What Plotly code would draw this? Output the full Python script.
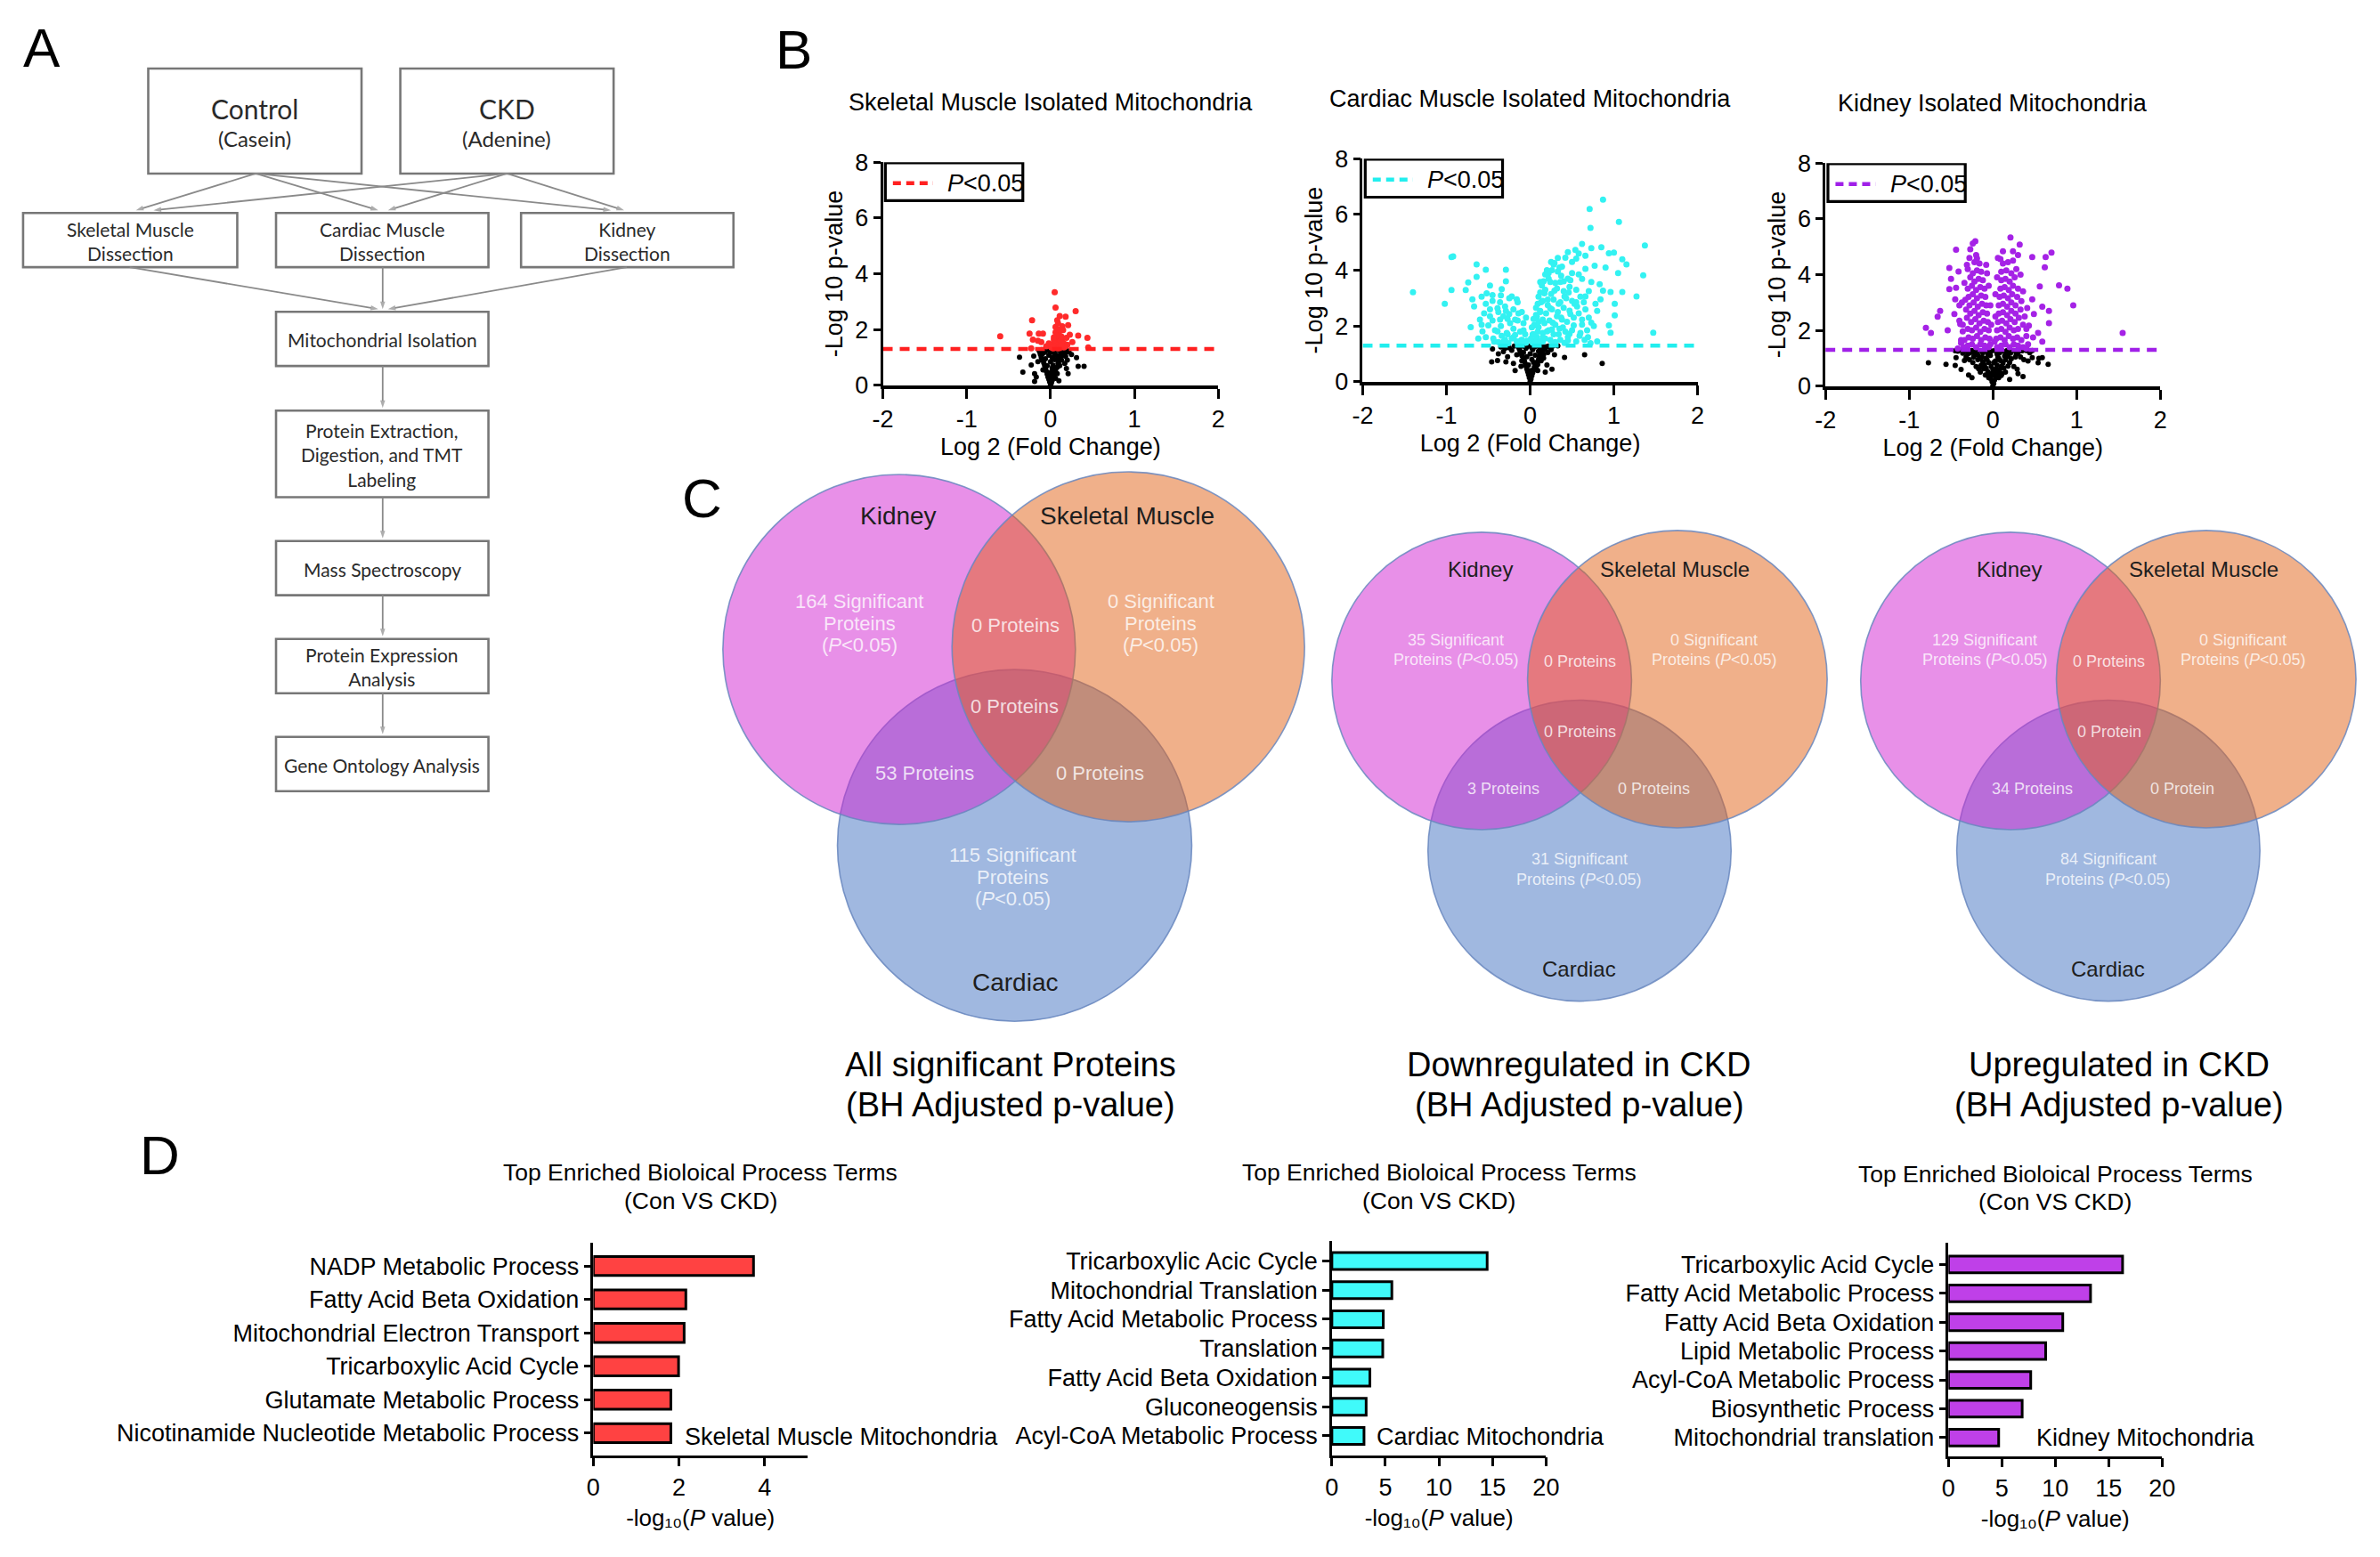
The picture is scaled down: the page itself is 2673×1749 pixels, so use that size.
import plotly.graph_objects as go

# Target picture size (reference pixel coordinates are used throughout)
W, H = 2673, 1749
# the page body keeps its default 8px margin, so the figure is made to fit inside it
PAD = 8
FW, FH = W - 2 * PAD, H - 2 * PAD


def px(x):
    return (x - PAD) / FW


def py(y):
    return 1 - (y - PAD) / FH


ARIAL = "Liberation Sans, Arial, Helvetica, sans-serif"
CALIBRI = "Lato, Carlito, Calibri, sans-serif"

# ======================= DATA =======================
# ---- Panel B: volcano plots (log2 fold change, -log10 p) ----
volcano_titles = ["Skeletal Muscle Isolated Mitochondria",
                  "Cardiac Muscle Isolated Mitochondria",
                  "Kidney Isolated Mitochondria"]
p_threshold = 1.3
volcano_xticks = [-2, -1, 0, 1, 2]
volcano_xticktext = ["-2", "-1", "0", "1", "2"]
volcano_yticks = [0, 2, 4, 6, 8]

skm_ns = [(0.00, 0.02), (0.01, 0.08), (-0.01, 0.12), (0.02, 0.18), (-0.02, 0.22), (0.03, 0.28), (-0.03, 0.30),
          (0.04, 0.36), (-0.04, 0.40), (0.00, 0.33), (0.05, 0.45), (-0.05, 0.50), (0.01, 0.48), (0.06, 0.55),
          (-0.06, 0.60), (0.02, 0.62), (0.08, 0.65), (-0.07, 0.70), (0.03, 0.72), (0.09, 0.78), (-0.08, 0.80),
          (0.00, 0.85), (0.10, 0.86), (-0.10, 0.90), (0.05, 0.92), (0.12, 0.95), (-0.11, 1.00), (0.02, 1.00),
          (0.13, 1.05), (-0.12, 1.10), (0.07, 1.08), (0.14, 1.15), (-0.13, 1.20), (0.00, 1.18), (0.15, 1.22),
          (-0.05, 1.25), (0.10, 1.26), (-0.09, 1.15), (0.04, 1.22), (0.16, 1.28), (-0.14, 1.27), (0.11, 0.70),
          (0.13, 0.90), (-0.09, 0.55), (0.06, 0.25), (-0.06, 0.95), (0.18, 1.18), (0.07, 1.28), (-0.02, 1.08),
          (0.05, 1.12), (0.09, 0.98), (-0.04, 0.70), (0.04, 0.58), (0.12, 1.12), (-0.08, 1.28), (0.01, 1.28),
          (-0.11, 1.28), (0.12, 1.28), (0.19, 1.28), (-0.03, 1.28), (0.03, 0.95), (-0.07, 1.18), (0.08, 0.42),
          (-0.37, 1.01), (-0.33, 0.47), (-0.19, 0.42), (-0.19, 0.14), (-0.23, 0.73), (0.31, 0.99), (0.33, 0.68),
          (0.40, 0.68), (0.18, 1.04), (0.17, 0.78), (0.21, 0.42), (-0.10, 1.12), (0.10, 0.16), (0.20, 0.90),
          (0.22, 1.20), (-0.20, 1.05), (0.19, 0.60), (-0.15, 0.85), (0.25, 1.10), (-0.17, 0.30)]
skm_sig = [(0.05, 3.34), (0.06, 2.79), (0.30, 2.66), (0.11, 2.48), (0.18, 2.46), (-0.22, 2.33), (0.08, 2.33),
           (0.21, 2.16), (0.14, 2.12), (0.06, 2.09), (-0.25, 1.85), (-0.14, 1.85), (-0.09, 1.85), (-0.60, 1.76),
           (0.10, 1.88), (0.23, 1.81), (0.33, 1.78), (0.44, 1.70), (-0.21, 1.64), (-0.15, 1.60), (0.07, 1.67),
           (0.14, 1.67), (0.09, 1.52), (0.12, 1.46), (0.05, 1.41), (0.16, 1.36), (0.45, 1.36), (-0.23, 1.33),
           (0.03, 1.33), (0.09, 1.33), (0.08, 1.55), (0.03, 1.45), (0.12, 1.60), (0.06, 1.90), (0.10, 2.00),
           (0.02, 1.38), (0.16, 1.50), (-0.05, 1.40), (0.20, 1.45), (0.13, 1.75), (0.04, 1.62), (0.18, 1.40),
           (0.11, 1.35), (-0.02, 1.50), (0.07, 1.78), (0.01, 1.36), (0.13, 1.42), (0.15, 1.98), (-0.11, 1.55),
           (0.26, 1.55), (0.09, 2.22), (0.04, 1.72), (0.19, 1.70)]

cm_ns = [(0.00, 0.02), (0.01, 0.10), (-0.01, 0.15), (0.02, 0.22), (-0.02, 0.26), (0.03, 0.32), (-0.03, 0.36),
         (0.04, 0.42), (-0.04, 0.46), (0.05, 0.52), (-0.05, 0.56), (0.06, 0.60), (-0.06, 0.66), (0.08, 0.70),
         (-0.07, 0.75), (0.10, 0.80), (-0.08, 0.84), (0.11, 0.90), (-0.10, 0.94), (0.12, 0.98), (-0.11, 1.02),
         (0.14, 1.06), (-0.12, 1.10), (0.15, 1.14), (-0.13, 1.18), (0.17, 1.20), (-0.14, 1.25), (0.19, 1.26),
         (0.05, 1.25), (0.10, 1.10), (0.06, 0.95), (0.02, 0.80), (0.03, 1.15), (0.22, 1.28), (0.08, 1.28),
         (-0.05, 1.20), (0.13, 0.75), (-0.02, 0.60), (0.00, 1.00), (0.12, 1.22), (0.07, 0.50), (0.04, 0.70),
         (0.09, 0.62), (-0.04, 0.90), (0.16, 0.98), (0.02, 1.22), (-0.08, 1.05), (0.14, 1.28),
         (-0.09, 1.28), (-0.02, 1.28), (0.11, 1.28), (0.18, 1.15), (0.21, 1.05), (-0.10, 0.75), (0.16, 0.85),
         (0.24, 1.22), (-0.19, 1.28), (0.27, 1.28), (0.01, 0.40), (0.09, 0.40),
         (-0.45, 1.18), (-0.39, 0.76), (-0.46, 0.71), (-0.32, 1.08), (-0.22, 1.13), (-0.16, 0.97), (-0.29, 0.71),
         (-0.20, 0.66), (0.41, 0.87), (0.65, 0.97), (0.86, 0.66), (0.33, 1.29), (0.29, 0.97), (0.26, 0.45),
         (-0.11, 0.55), (-0.18, 0.40), (-0.35, 1.25), (-0.25, 1.22), (0.25, 1.15), (0.20, 0.60), (-0.27, 0.90),
         (0.18, 0.35), (-0.30, 1.20), (-0.38, 1.00)]
cm_sig = [(0.87, 6.53), (0.71, 6.20), (1.06, 5.73), (0.72, 5.52), (1.37, 4.89), (0.62, 4.94), (0.54, 4.73),
          (0.45, 4.65), (0.73, 4.79), (0.85, 4.82), (0.94, 4.61), (1.00, 4.63), (0.66, 4.52), (0.55, 4.42),
          (0.33, 4.44), (0.29, 4.26), (0.26, 4.00), (0.38, 4.13), (1.10, 4.39), (1.15, 4.21), (1.05, 3.90),
          (1.35, 3.82), (0.77, 4.16), (0.66, 4.05), (0.50, 3.90), (0.22, 3.90), (-0.92, 4.50), (-0.94, 4.47),
          (-0.64, 4.21), (-0.53, 4.02), (-0.29, 4.02), (-0.29, 3.60), (-0.74, 3.56), (-0.94, 3.29), (-0.77, 3.29),
          (-1.02, 2.80), (-0.64, 3.76), (-0.52, 3.17), (-0.45, 3.11), (-0.34, 3.32), (-0.22, 3.06), (-0.16, 2.96),
          (-0.69, 2.96), (-0.67, 2.70), (-0.53, 2.80), (-0.39, 2.64), (-0.29, 2.54), (-0.60, 2.23), (-0.71, 1.96),
          (-0.50, 2.02), (-0.36, 2.23), (-0.25, 2.43), (-0.18, 2.23), (-0.57, 1.81), (-0.39, 1.81), (-0.53, 1.60),
          (-0.43, 1.44), (-0.27, 1.70), (-0.20, 1.60), (-0.32, 1.44), (-0.11, 1.49), (-0.04, 1.47), (-1.40, 3.21),
          (0.12, 3.58), (0.24, 3.58), (0.36, 3.58), (0.48, 3.64), (0.62, 3.69), (0.73, 3.58), (0.87, 3.27),
          (0.96, 3.22), (1.10, 3.22), (1.27, 3.06), (0.84, 2.96), (1.01, 2.80), (0.80, 2.54), (1.01, 2.38),
          (0.94, 2.02), (1.47, 1.76), (0.96, 1.76), (0.66, 3.06), (0.55, 2.85), (0.41, 3.06), (0.29, 3.27),
          (0.17, 3.17), (0.13, 2.85), (0.24, 2.64), (0.34, 2.80), (0.48, 2.43), (0.62, 2.23), (0.73, 2.12),
          (0.52, 2.02), (0.38, 2.23), (0.27, 2.12), (0.15, 2.23), (0.10, 1.96), (0.20, 1.81), (0.34, 1.70),
          (0.45, 1.60), (0.59, 1.65), (0.69, 1.60), (0.08, 1.60), (0.15, 1.44), (0.27, 1.39), (0.41, 1.39),
          (0.06, 1.39), (0.03, 1.70), (0.05, 2.02), (0.08, 2.33), (0.12, 2.54),
          (0.03, 1.40), (0.07, 1.50), (0.12, 1.45), (0.18, 1.55), (0.24, 1.50), (0.30, 1.42), (0.36, 1.50),
          (0.45, 1.48), (0.55, 1.45), (0.65, 1.50), (0.04, 1.70), (0.09, 1.80), (0.15, 1.75), (0.22, 1.85),
          (0.28, 1.70), (0.35, 1.90), (0.42, 1.80), (0.50, 1.85), (0.60, 1.75), (0.05, 2.05), (0.10, 2.15),
          (0.17, 2.10), (0.23, 2.20), (0.30, 2.05), (0.37, 2.30), (0.44, 2.15), (0.52, 2.30), (0.62, 2.05),
          (0.70, 2.30), (0.07, 2.40), (0.12, 2.50), (0.19, 2.45), (0.26, 2.60), (0.33, 2.50), (0.40, 2.65),
          (0.47, 2.55), (0.56, 2.70), (0.66, 2.60), (0.09, 2.80), (0.15, 2.90), (0.21, 2.75), (0.28, 2.95),
          (0.36, 2.85), (0.43, 3.00), (0.50, 2.90), (0.60, 3.05), (0.12, 3.20), (0.18, 3.30), (0.25, 3.15),
          (0.32, 3.35), (0.40, 3.25), (0.47, 3.40), (0.55, 3.30), (0.16, 3.60), (0.22, 3.70), (0.30, 3.55),
          (0.37, 3.80), (0.45, 3.70), (0.58, 3.85), (0.20, 4.00), (0.28, 4.20), (0.35, 4.10), (0.50, 4.30),
          (0.42, 4.45), (-0.05, 1.40), (-0.10, 1.50), (-0.16, 1.45), (-0.22, 1.55), (-0.30, 1.50), (-0.38, 1.42),
          (-0.06, 1.70), (-0.12, 1.80), (-0.20, 1.90), (-0.28, 1.75), (-0.35, 2.00), (-0.42, 1.85), (-0.08, 2.10),
          (-0.15, 2.20), (-0.24, 2.10), (-0.32, 2.35), (-0.45, 2.20), (-0.10, 2.50), (-0.20, 2.60), (-0.30, 2.70),
          (-0.38, 2.50), (-0.48, 2.60), (-0.25, 3.00), (-0.35, 3.10), (-0.45, 2.90), (-0.55, 2.45), (-0.15, 2.85),
          (-0.12, 1.35), (-0.26, 1.38), (-0.34, 1.65), (-0.18, 1.68), (-0.44, 1.55), (-0.62, 1.55), (-0.58, 2.05),
          (-0.48, 2.35), (-0.27, 2.25), (-0.14, 2.45), (-0.05, 2.30), (-0.36, 2.85), (-0.58, 3.05), (-0.48, 3.45),
          (-0.08, 1.85), (0.01, 1.55), (0.02, 1.95), (0.04, 2.25), (0.07, 2.65), (0.10, 3.05), (0.14, 3.45),
          (0.18, 3.85), (0.25, 4.30), (0.33, 3.95), (0.40, 3.60), (0.46, 3.20), (0.53, 2.80), (0.58, 2.45),
          (0.64, 2.85), (0.70, 3.25), (0.68, 1.85), (0.76, 2.00), (0.78, 2.80), (0.83, 3.50), (0.90, 4.10),
          (0.58, 4.60), (0.39, 1.95), (0.32, 2.35), (0.21, 2.95), (0.15, 1.60), (0.26, 1.88), (0.47, 1.72),
          (0.80, 1.45), (0.72, 1.38)]

kid_ns = [(0.00, 0.02), (0.01, 0.10), (-0.01, 0.16), (0.02, 0.22), (-0.03, 0.28), (0.04, 0.34), (-0.04, 0.40),
          (0.06, 0.46), (-0.06, 0.52), (0.08, 0.58), (-0.08, 0.64), (0.10, 0.70), (-0.10, 0.76), (0.12, 0.82),
          (-0.12, 0.88), (0.15, 0.94), (-0.15, 1.00), (0.18, 1.06), (-0.18, 1.12), (0.21, 1.18), (-0.21, 1.24),
          (0.25, 1.28), (-0.25, 1.28), (0.00, 0.60), (0.03, 0.90), (-0.03, 1.10), (0.08, 1.20), (-0.08, 1.00),
          (0.12, 1.25), (-0.12, 1.20), (0.30, 1.20), (-0.30, 1.15), (0.35, 1.27), (-0.35, 1.25), (0.05, 0.75),
          (-0.05, 0.85), (0.20, 0.85), (-0.20, 0.70), (0.15, 0.50), (-0.15, 0.50), (0.40, 1.28), (-0.40, 1.29),
          (0.02, 1.28), (-0.02, 1.26), (0.06, 1.05), (-0.06, 1.15), (0.00, 0.40), (0.03, 0.50), (-0.02, 0.70),
          (0.09, 0.92), (-0.10, 1.28), (0.16, 1.15), (0.27, 1.05), (-0.23, 1.05), (0.05, 1.15), (-0.14, 0.75),
          (0.11, 0.45), (0.22, 1.28), (-0.30, 1.27), (0.07, 0.30),
          (-0.42, 1.25), (-0.36, 1.18), (-0.32, 1.05), (-0.27, 1.20), (-0.28, 0.95), (-0.24, 0.85), (-0.22, 1.18),
          (-0.18, 0.95), (-0.17, 0.62), (-0.13, 1.05), (-0.11, 0.62), (-0.09, 0.40), (-0.07, 0.95), (-0.05, 0.30),
          (-0.02, 0.45), (0.01, 0.85), (0.04, 0.62), (0.07, 1.00), (0.10, 0.38), (0.13, 0.65), (0.14, 1.08),
          (0.18, 0.72), (0.22, 0.98), (0.25, 0.70), (0.28, 1.15), (0.33, 1.05), (0.37, 0.95), (0.44, 1.20),
          (0.47, 1.28), (-0.45, 1.27), (0.17, 1.28), (-0.17, 1.28), (0.32, 1.28), (-0.06, 1.28), (0.09, 1.28),
          (-0.77, 0.84), (-0.56, 0.78), (-0.45, 0.74), (-0.44, 1.02), (-0.34, 0.92), (-0.29, 0.40), (0.47, 1.02),
          (0.55, 1.00), (0.59, 1.02), (0.66, 0.78), (0.54, 0.84), (0.36, 0.34), (0.20, 0.24), (0.29, 0.61),
          (0.42, 0.90), (-0.38, 0.60), (0.30, 0.45), (-0.25, 0.30)]
kid_sig = [(0.21, 5.33), (-0.21, 5.20), (-0.24, 5.12), (0.32, 5.08), (-0.44, 4.89), (-0.27, 4.91), (0.12, 4.84),
           (0.24, 4.84), (0.47, 4.63), (0.63, 4.63), (0.70, 4.79), (-0.19, 4.58), (0.09, 4.56), (-0.52, 4.24),
           (-0.31, 4.35), (0.62, 4.26), (-0.41, 4.11), (-0.50, 3.85), (-0.07, 4.05), (0.56, 3.58), (0.79, 3.62),
           (0.89, 3.50), (-0.52, 3.48), (-0.44, 3.53), (0.96, 2.90), (-0.63, 2.70), (-0.66, 2.49), (-0.80, 2.09),
           (-0.74, 1.91), (-0.54, 2.00), (0.59, 2.85), (0.67, 2.70), (0.67, 2.26), (0.54, 1.91), (0.59, 1.60),
           (1.55, 1.91), (-0.45, 3.11), (-0.40, 2.90), (-0.46, 2.59), (-0.39, 2.23), (-0.38, 1.65), (-0.36, 1.96),
           (0.47, 3.11), (0.49, 2.59), (0.43, 2.17), (0.48, 1.75),
           (-0.05, 1.40), (-0.10, 1.45), (-0.15, 1.50), (-0.20, 1.40), (-0.25, 1.50), (-0.30, 1.45), (-0.35, 1.40),
           (-0.04, 1.70), (-0.09, 1.75), (-0.14, 1.65), (-0.19, 1.80), (-0.24, 1.70), (-0.29, 1.75), (-0.34, 1.65),
           (-0.05, 2.00), (-0.10, 2.05), (-0.15, 1.95), (-0.20, 2.10), (-0.25, 2.00), (-0.30, 2.05), (-0.36, 2.20),
           (-0.06, 2.30), (-0.11, 2.35), (-0.16, 2.25), (-0.21, 2.40), (-0.26, 2.30), (-0.31, 2.45),
           (-0.07, 2.60), (-0.12, 2.65), (-0.17, 2.55), (-0.22, 2.70), (-0.27, 2.60), (-0.32, 2.75),
           (-0.08, 2.90), (-0.13, 2.95), (-0.18, 2.85), (-0.23, 3.00), (-0.28, 2.90), (-0.33, 3.10),
           (-0.09, 3.20), (-0.14, 3.25), (-0.19, 3.15), (-0.24, 3.30), (-0.29, 3.20),
           (-0.10, 3.50), (-0.15, 3.55), (-0.20, 3.45), (-0.25, 3.60), (-0.30, 3.50),
           (-0.12, 3.80), (-0.17, 3.85), (-0.22, 3.75), (-0.27, 3.90),
           (-0.14, 4.10), (-0.19, 4.15), (-0.24, 4.05), (-0.30, 4.20), (-0.16, 4.40), (-0.22, 4.45), (-0.20, 4.70),
           (0.05, 1.40), (0.10, 1.45), (0.15, 1.50), (0.20, 1.40), (0.25, 1.50), (0.30, 1.45), (0.36, 1.40),
           (0.42, 1.50), (0.04, 1.70), (0.09, 1.75), (0.14, 1.65), (0.19, 1.80), (0.24, 1.70), (0.29, 1.75),
           (0.34, 1.65), (0.40, 1.80), (0.05, 2.00), (0.10, 2.05), (0.15, 1.95), (0.20, 2.10), (0.25, 2.00),
           (0.30, 2.05), (0.36, 2.20), (0.06, 2.30), (0.11, 2.35), (0.16, 2.25), (0.21, 2.40), (0.26, 2.30),
           (0.31, 2.45), (0.38, 2.50), (0.07, 2.60), (0.12, 2.65), (0.17, 2.55), (0.22, 2.70), (0.27, 2.60),
           (0.33, 2.75), (0.07, 2.90), (0.12, 2.95), (0.17, 2.85), (0.22, 3.00), (0.27, 2.90), (0.34, 3.05),
           (0.08, 3.20), (0.13, 3.25), (0.18, 3.15), (0.23, 3.30), (0.29, 3.20), (0.09, 3.50), (0.14, 3.55),
           (0.19, 3.45), (0.24, 3.60), (0.30, 3.50), (0.10, 3.80), (0.15, 3.85), (0.20, 3.75), (0.26, 3.90),
           (0.10, 4.10), (0.16, 4.15), (0.22, 4.05), (0.28, 4.20), (0.12, 4.40), (0.18, 4.45), (0.24, 4.50),
           (-0.03, 1.50), (-0.02, 2.20), (-0.03, 2.90), (0.02, 1.60), (0.03, 2.50), (0.03, 3.30), (-0.38, 1.55),
           (-0.40, 2.35), (-0.37, 3.00), (-0.34, 3.70), (0.40, 2.05), (0.41, 2.80), (0.36, 3.40), (0.33, 4.00),
           (-0.28, 4.60), (0.30, 4.70), (0.40, 1.35), (-0.42, 1.35), (-0.05, 3.60), (0.05, 3.90), (-0.08, 4.35),
           (0.06, 4.60)]

# ---- Panel C: Venn counts ----
venn_set_labels = ["Kidney", "Skeletal Muscle", "Cardiac"]
# order: K only, S only, K&S, K&S&C, K&C, S&C, C only
venn_all_counts = [164, 0, 0, 0, 53, 0, 115]
venn_down_counts = [35, 0, 0, 0, 3, 0, 31]
venn_up_counts = [129, 0, 0, 0, 34, 0, 84]
venn_captions = [("All significant Proteins", "(BH Adjusted p-value)"),
                 ("Downregulated in CKD", "(BH Adjusted p-value)"),
                 ("Upregulated in CKD", "(BH Adjusted p-value)")]

# ---- Panel D: GO enrichment bars ----
go_title = ("Top Enriched Bioloical Process Terms", "(Con VS CKD)")
go_xtitle = "-log\u2081\u2080(<i>P</i> value)"
skm_terms = ["NADP Metabolic Process", "Fatty Acid Beta Oxidation", "Mitochondrial Electron Transport",
             "Tricarboxylic Acid Cycle", "Glutamate Metabolic Process", "Nicotinamide Nucleotide Metabolic Process"]
skm_logp = [3.74, 2.16, 2.12, 1.99, 1.81, 1.81]
cm_terms = ["Tricarboxylic Acic Cycle", "Mitochondrial Translation", "Fatty Acid Metabolic Process", "Translation",
            "Fatty Acid Beta Oxidation", "Gluconeogensis", "Acyl-CoA Metabolic Process"]
cm_logp = [14.5, 5.6, 4.8, 4.75, 3.55, 3.2, 3.0]
kid_terms = ["Tricarboxylic Acid Cycle", "Fatty Acid Metabolic Process", "Fatty Acid Beta Oxidation",
             "Lipid Metabolic Process", "Acyl-CoA Metabolic Process", "Biosynthetic Process",
             "Mitochondrial translation"]
kid_logp = [16.3, 13.3, 10.7, 9.1, 7.7, 6.9, 4.7]

# ---- Panel A: flowchart text ----
flow_labels = ["Control", "(Casein)", "CKD", "(Adenine)",
               "Skeletal Muscle<br>Dissection", "Cardiac Muscle<br>Dissection", "Kidney<br>Dissection",
               "Mitochondrial Isolation", "Protein Extraction,<br>Digestion, and TMT<br>Labeling",
               "Mass Spectroscopy", "Protein Expression<br>Analysis", "Gene Ontology Analysis"]

# ======================= FIGURE =======================
fig = go.Figure()
shapes = []
annotations = []
layout_axes = {}


def text(x, y, s, size, color="black", family=ARIAL, xanchor="center", yanchor="middle"):
    annotations.append(dict(x=px(x), y=py(y), xref="paper", yref="paper", text=s, showarrow=False,
                            font=dict(family=family, size=size, color=color), xanchor=xanchor,
                            yanchor=yanchor))


# ---------- Panel letters ----------
text(12, 2, "A", 62, xanchor="left", yanchor="top")
text(866, 4, "B", 62, xanchor="left", yanchor="top")
text(760, 517, "C", 62, xanchor="left", yanchor="top")
text(144, 1268, "D", 62, xanchor="left", yanchor="top")

# ---------- Panel A: flowchart ----------
FLOW_C = "#2a2a2a"
BOX_LINE = "#777777"
box_geom = [(156, 63, 398, 183), (442, 63, 684, 183),
            (14, 228, 257, 290), (301, 228, 542, 290), (579, 228, 820, 290),
            (301, 341, 542, 403), (301, 454, 542, 553), (301, 603, 542, 665),
            (301, 715, 542, 777), (301, 827, 542, 889)]
for (x0, y0, x1, y1) in box_geom:
    shapes.append(dict(type="rect", xref="paper", yref="paper", x0=px(x0), x1=px(x1), y0=py(y1), y1=py(y0),
                       line=dict(color=BOX_LINE, width=2.6), fillcolor="white", layer="below"))
text(277, 109, flow_labels[0], 30, FLOW_C, CALIBRI)
text(277, 143, flow_labels[1], 24, FLOW_C, CALIBRI)
text(563, 109, flow_labels[2], 30, FLOW_C, CALIBRI)
text(563, 143, flow_labels[3], 24, FLOW_C, CALIBRI)
for lab, (x0, y0, x1, y1) in zip(flow_labels[4:], box_geom[2:]):
    text((x0 + x1) / 2, (y0 + y1) / 2 + 1, lab, 21, FLOW_C, CALIBRI)

# flowchart connectors drawn on a hidden full-page overlay axis in picture pixels
ARROW_C = "#8a8a8a"
arrows = [((278, 183), (142, 225)), ((278, 183), (417, 225)), ((278, 183), (681, 225)),
          ((563, 183), (162, 225)), ((563, 183), (428, 225)), ((563, 183), (696, 225)),
          ((135, 290), (417, 338)), ((422, 290), (422, 338)), ((699, 290), (428, 338)),
          ((422, 403), (422, 451)), ((422, 553), (422, 600)), ((422, 665), (422, 712)),
          ((422, 777), (422, 824))]
for (tx, ty), (hx, hy) in arrows:
    fig.add_trace(go.Scatter(x=[tx, hx], y=[ty, hy], mode="lines+markers", xaxis="x7", yaxis="y7",
                             line=dict(color=ARROW_C, width=1.8),
                             marker=dict(symbol="arrow", size=[0, 9], angleref="previous", color=ARROW_C,
                                         line=dict(width=0)),
                             showlegend=False, hoverinfo="skip"))
layout_axes["xaxis7"] = dict(domain=[0, 1], range=[PAD, PAD + FW], visible=False, fixedrange=True,
                             anchor="y7")
layout_axes["yaxis7"] = dict(domain=[0, 1], range=[PAD + FH, PAD], visible=False, fixedrange=True,
                             anchor="x7")

# ---------- Panel B: volcano plots ----------
volcano_specs = [
    dict(ns=skm_ns, sig=skm_sig, color="#FF2A2A", line="#FF2020", dom=(989.5, 1370, 170, 425), title_y=102),
    dict(ns=cm_ns, sig=cm_sig, color="#33F2F2", line="#22EEEE", dom=(1534, 1914, 166, 421), title_y=98),
    dict(ns=kid_ns, sig=kid_sig, color="#A522E6", line="#A020E8", dom=(2059, 2439, 171, 426), title_y=103),
]
for k, spec in enumerate(volcano_specs, start=1):
    xa, ya = f"x{k}", f"y{k}"
    x0, x1, y0, y1 = spec["dom"]
    fig.add_trace(go.Scatter(x=[p[0] for p in spec["ns"]], y=[p[1] for p in spec["ns"]], mode="markers",
                             marker=dict(color="black", size=6), xaxis=xa, yaxis=ya, showlegend=False,
                             cliponaxis=False, hoverinfo="skip"))
    fig.add_trace(go.Scatter(x=[p[0] for p in spec["sig"]], y=[p[1] for p in spec["sig"]], mode="markers",
                             marker=dict(color=spec["color"], size=7), xaxis=xa, yaxis=ya, showlegend=False,
                             hoverinfo="skip"))
    fig.add_trace(go.Scatter(x=[volcano_xticks[0], volcano_xticks[-1]], y=[p_threshold, p_threshold],
                             mode="lines", line=dict(color=spec["line"], width=4.5, dash="11px,8px"),
                             xaxis=xa, yaxis=ya, showlegend=False, hoverinfo="skip"))
    # legend box
    shapes.append(dict(type="rect", xref=xa, yref=ya, x0=-1.97, x1=-0.33, y0=6.62, y1=7.98,
                       line=dict(color="black", width=3.2), fillcolor="rgba(0,0,0,0)"))
    shapes.append(dict(type="line", xref=xa, yref=ya, x0=-1.88, x1=-1.40, y0=7.25, y1=7.25,
                       line=dict(color=spec["line"], width=4.5, dash="9px,6px")))
    annotations.append(dict(x=-1.25, y=7.25, xref=xa, yref=ya, text="<i>P</i>&lt;0.05", showarrow=False,
                            xanchor="left", yanchor="middle", font=dict(family=ARIAL, size=27, color="black")))
    text((x0 + x1) / 2, spec["title_y"], volcano_titles[k - 1], 27)
    layout_axes[f"xaxis{k}"] = dict(
        domain=[px(x0), px(x1)], range=[-2, 2], anchor=ya, tickmode="array", tickvals=volcano_xticks,
        ticktext=volcano_xticktext,
        ticks="outside", ticklen=11, tickwidth=2.5, tickcolor="black", showline=True, linewidth=3.5,
        linecolor="black", showgrid=False, zeroline=False,
        tickfont=dict(family=ARIAL, size=27, color="black"),
        title=dict(text="Log 2 (Fold Change)", font=dict(family=ARIAL, size=27, color="black"), standoff=8))
    layout_axes[f"yaxis{k}"] = dict(
        domain=[py(y1), py(y0)], range=[0, 8], anchor=xa, tickmode="array", tickvals=volcano_yticks,
        ticks="outside", ticklen=8, tickwidth=2.5, tickcolor="black", showline=True, linewidth=2.5,
        linecolor="black", showgrid=False, zeroline=False,
        tickfont=dict(family=ARIAL, size=27, color="black"),
        title=dict(text="-Log 10 p-value", font=dict(family=ARIAL, size=27, color="black"), standoff=6))

# ---------- Panel C: Venn diagrams ----------
KID_FILL = "rgba(209,33,209,0.5)"
SKM_FILL = "rgba(226,97,21,0.5)"
CAR_FILL = "rgba(65,113,193,0.5)"
CIRC_LINE = "rgba(105,135,190,0.85)"
venn_geom = [
    dict(K=(1008, 727, 200), S=(1268, 724, 200), C=(1139, 951, 201)),
    dict(K=(1669, 763, 170), S=(1891, 761, 170), C=(1780, 957, 172)),
    dict(K=(2269, 763, 170), S=(2491, 761, 170), C=(2380, 957, 172)),
]
for g in venn_geom:
    for key, fill in (("C", CAR_FILL), ("K", KID_FILL), ("S", SKM_FILL)):
        cx, cy, r = g[key]
        shapes.append(dict(type="circle", xref="paper", yref="paper", x0=px(cx - r), x1=px(cx + r),
                           y0=py(cy + r), y1=py(cy - r), fillcolor=fill, line=dict(color=CIRC_LINE, width=1.6)))

WT = "rgba(255,255,255,0.78)"
LBL = "#1e1e1e"
P_TXT = "(<i>P</i>&lt;0.05)"
# Venn 1 (all significant)
c = venn_all_counts
text(1007, 574, venn_set_labels[0], 28, LBL)
text(1267, 574, venn_set_labels[1], 28, LBL)
text(1139, 1108, venn_set_labels[2], 28, LBL)
for s, (x, y0) in ((c[0], (963, 672)), (c[1], (1305, 672)), (c[6], (1137, 962))):
    text(x, y0, f"{s} Significant", 22, WT)
    text(x, y0 + 25, "Proteins", 22, WT)
    text(x, y0 + 50, P_TXT, 22, WT)
text(1140, 699, f"{c[2]} Proteins", 22, WT)
text(1139, 792, f"{c[3]} Proteins", 22, WT)
text(1037, 868, f"{c[4]} Proteins", 22, WT)
text(1236, 868, f"{c[5]} Proteins", 22, WT)

# Venn 2 (down) and Venn 3 (up)
for counts, dx, single in ((venn_down_counts, 0, "Proteins"), (venn_up_counts, 600, "Protein")):
    text(1667 + dx, 635, venn_set_labels[0], 24, LBL)
    text(1888 + dx, 635, venn_set_labels[1], 24, LBL)
    text(1780 + dx, 1092, venn_set_labels[2], 24, LBL)
    for s, (x, y0) in ((counts[0], (1640 + dx, 716)), (counts[1], (1933 + dx, 716)),
                       (counts[6], (1780 + dx, 967))):
        text(x, y0, f"{s} Significant", 18, WT)
        text(x, y0 + 23, "Proteins " + P_TXT, 18, WT)
    text(1781 + dx, 741, f"{counts[2]} Proteins", 18, WT)
    text(1781 + dx, 821, f"{counts[3]} {single}", 18, WT)
    text(1694 + dx, 886, f"{counts[4]} Proteins", 18, WT)
    text(1864 + dx, 886, f"{counts[5]} {single}", 18, WT)

for (l1, l2), xc in zip(venn_captions, (1134, 1780, 2392)):
    text(xc, 1202, l1, 38)
    text(xc, 1247, l2, 38)

# ---------- Panel D: bar charts ----------
bar_specs = [
    dict(terms=skm_terms, vals=skm_logp, color="#FF4242", dom=(661, 904, 1405, 1648), xr=[0, 5],
         ticks=[0, 2, 4], yr=[5.66, -0.70], label="Skeletal Muscle Mitochondria", lx=763, ly=1627, w=0.57,
         ty=(1325, 1357)),
    dict(terms=cm_terms, vals=cm_logp, color="#40FAFA", dom=(1499, 1742, 1403, 1648), xr=[0, 20],
         ticks=[0, 5, 10, 15, 20], yr=[6.66, -0.69], label="Cardiac Mitochondria", lx=1548, ly=1627, w=0.58,
         ty=(1325, 1357)),
    dict(terms=kid_terms, vals=kid_logp, color="#BF40E8", dom=(2198.6, 2441, 1405, 1649), xr=[0, 20],
         ticks=[0, 5, 10, 15, 20], yr=[6.64, -0.76], label="Kidney Mitochondria", lx=2296, ly=1628, w=0.58,
         ty=(1327, 1358)),
]
for j, spec in enumerate(bar_specs, start=4):
    xa, ya = f"x{j}", f"y{j}"
    x0, x1, y0, y1 = spec["dom"]
    fig.add_trace(go.Bar(x=spec["vals"], y=spec["terms"], orientation="h", width=spec["w"],
                         marker=dict(color=spec["color"], line=dict(color="black", width=3)),
                         xaxis=xa, yaxis=ya, showlegend=False, hoverinfo="skip"))
    layout_axes[f"xaxis{j}"] = dict(
        domain=[px(x0), px(x1)], range=spec["xr"], anchor=ya, tickmode="array", tickvals=spec["ticks"],
        ticks="outside", ticklen=10, tickwidth=2.5, tickcolor="black", showline=True, linewidth=2.5,
        linecolor="black", showgrid=False, zeroline=False,
        tickfont=dict(family=ARIAL, size=27, color="black"),
        title=dict(text=go_xtitle, font=dict(family=ARIAL, size=26, color="black"), standoff=12))
    layout_axes[f"yaxis{j}"] = dict(
        domain=[py(y1), py(y0)], type="category", categoryorder="array", categoryarray=spec["terms"],
        tickmode="array", tickvals=spec["terms"], ticktext=spec["terms"],
        range=spec["yr"], anchor=xa, ticks="outside", ticklen=8, tickwidth=2.5, tickcolor="black",
        showline=True, linewidth=2.5, linecolor="black", showgrid=False, zeroline=False,
        tickfont=dict(family=ARIAL, size=27, color="black"))
    xc = (x0 + x1) / 2
    text(xc, spec["ty"][0], go_title[0], 26.5)
    text(xc, spec["ty"][1], go_title[1], 26.5)
    text(spec["lx"], spec["ly"], spec["label"], 27, xanchor="left")

fig.update_layout(width=FW, height=FH, margin=dict(l=0, r=0, t=0, b=0), paper_bgcolor="white",
                  plot_bgcolor="rgba(0,0,0,0)", shapes=shapes, annotations=annotations,
                  bargap=0.4, **layout_axes)

fig.write_html("out.html", config={"displayModeBar": False, "responsive": False})
